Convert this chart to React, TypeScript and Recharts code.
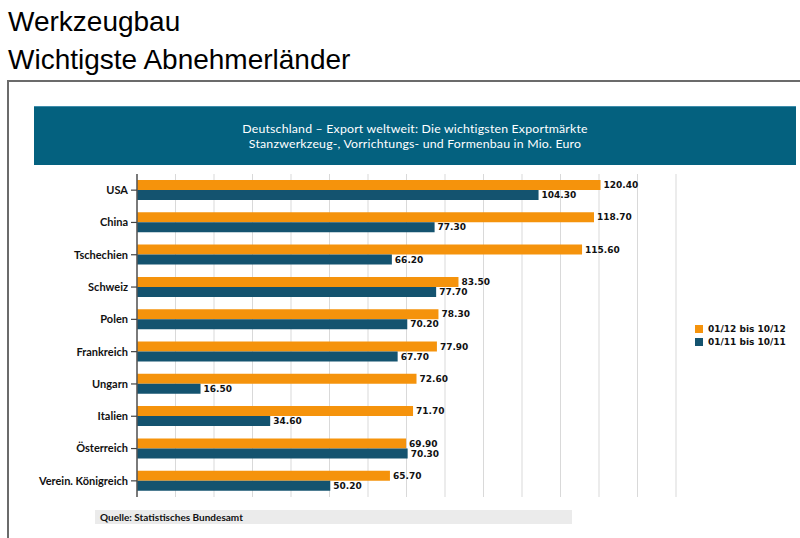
import { BarChart, Bar, XAxis, YAxis, CartesianGrid, LabelList } from "recharts";

const countries = [
  "USA",
  "China",
  "Tschechien",
  "Schweiz",
  "Polen",
  "Frankreich",
  "Ungarn",
  "Italien",
  "Österreich",
  "Verein. Königreich",
];
const period2012 = [120.4, 118.7, 115.6, 83.5, 78.3, 77.9, 72.6, 71.7, 69.9, 65.7];
const period2011 = [104.3, 77.3, 66.2, 77.7, 70.2, 67.7, 16.5, 34.6, 70.3, 50.2];
const xTicks = [0, 10, 20, 30, 40, 50, 60, 70, 80, 90, 100, 110, 120, 130, 140];

const ORANGE = "#f5930c";
const BLUE = "#14536f";
const FONT = "Lato, 'DejaVu Sans', sans-serif";
const WIDE_FONT = "'DejaVu Sans', Verdana, sans-serif";

const series = [
  { key: "cur", name: "01/12 bis 10/12", color: ORANGE },
  { key: "prev", name: "01/11 bis 10/11", color: BLUE },
];

const data = countries.map((name, i) => ({
  name,
  cur: period2012[i],
  prev: period2011[i],
}));

const labelStyle = { fill: "#111", fontSize: 9, fontWeight: 700, fontFamily: WIDE_FONT };

export default function App() {
  return (
    <div
      style={{
        position: "absolute",
        left: 0,
        top: 0,
        width: 800,
        height: 538,
        overflow: "hidden",
        background: "#fff",
      }}
    >
      <div
        style={{
          position: "absolute",
          left: 8,
          top: 3,
          fontFamily: "'Liberation Sans', Arial, sans-serif",
          fontSize: 28,
          lineHeight: "38px",
          color: "#000",
        }}
      >
        <div>Werkzeugbau</div>
        <div>Wichtigste Abnehmerländer</div>
      </div>

      {/* outer frame */}
      <div
        style={{
          position: "absolute",
          left: 7,
          top: 80,
          width: 820,
          height: 520,
          border: "2px solid #6b6b6b",
          boxSizing: "border-box",
        }}
      />

      {/* header box */}
      <div
        style={{
          position: "absolute",
          left: 34,
          top: 106,
          width: 762,
          height: 59,
          background: "#04617f",
          borderTop: "1px solid #3f8dab",
          boxSizing: "border-box",
          color: "#fff",
          fontFamily: FONT,
          fontSize: 12.3,
          lineHeight: "15px",
          textAlign: "center",
          paddingTop: 14,
          letterSpacing: 0.2,
        }}
      >
        <div>Deutschland – Export weltweit: Die wichtigsten Exportmärkte</div>
        <div>Stanzwerkzeug-, Vorrichtungs- und Formenbau in Mio. Euro</div>
      </div>

      <div style={{ position: "absolute", left: 0, top: 0 }}>
        <BarChart
          width={800}
          height={538}
          data={data}
          layout="vertical"
          margin={{ top: 174, right: 124, bottom: 41, left: 7 }}
          barGap={0}
          barSize={10}
        >
          <CartesianGrid horizontal={false} stroke="#d9d9d9" strokeWidth={1} />
          <XAxis type="number" domain={[0, 140]} ticks={xTicks} hide />
          <YAxis
            type="category"
            dataKey="name"
            width={130}
            axisLine={{ stroke: "#555", strokeWidth: 1.5 }}
            tickLine={{ stroke: "#444", strokeWidth: 1.2 }}
            tickSize={6}
            tickMargin={3}
            tick={{ fill: "#111", fontSize: 11, fontWeight: 700, fontFamily: FONT }}
            interval={0}
          />
          {series.map((s) => (
            <Bar key={s.key} dataKey={s.key} name={s.name} fill={s.color} isAnimationActive={false}>
              <LabelList
                dataKey={s.key}
                position="right"
                offset={3}
                formatter={(v: any) => Number(v).toFixed(2)}
                style={labelStyle}
              />
            </Bar>
          ))}
        </BarChart>
      </div>

      {/* legend */}
      <div
        style={{
          position: "absolute",
          left: 695,
          top: 322,
          fontFamily: WIDE_FONT,
          fontWeight: 700,
          fontSize: 9,
          color: "#111",
        }}
      >
        {series.map((s) => (
          <div key={s.key} style={{ display: "flex", alignItems: "center", height: 13 }}>
            <span
              style={{
                display: "inline-block",
                width: 8,
                height: 8,
                background: s.color,
                marginRight: 5,
              }}
            />
            {s.name}
          </div>
        ))}
      </div>

      {/* source note */}
      <div
        style={{
          position: "absolute",
          left: 95,
          top: 510,
          width: 477,
          height: 14,
          background: "#ebebeb",
          fontFamily: FONT,
          fontWeight: 700,
          fontSize: 10,
          lineHeight: "14px",
          paddingLeft: 5,
          boxSizing: "border-box",
          color: "#111",
        }}
      >
        Quelle: Statistisches Bundesamt
      </div>
    </div>
  );
}
